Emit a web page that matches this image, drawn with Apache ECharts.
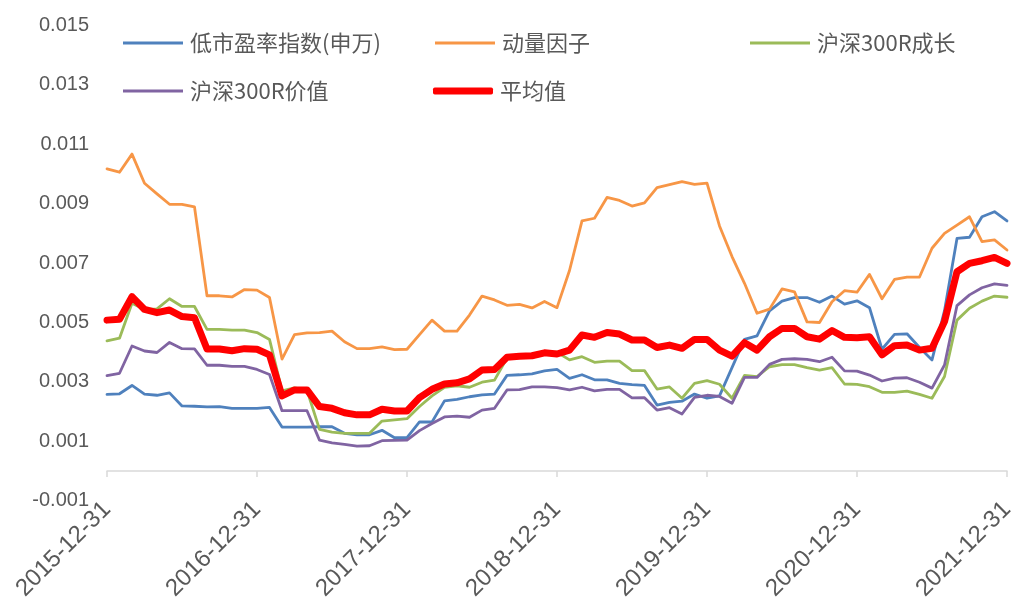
<!DOCTYPE html>
<html>
<head>
<meta charset="utf-8">
<script src="https://cdn.jsdelivr.net/npm/echarts@6/dist/echarts.min.js"></script>
<style>
html,body{margin:0;padding:0;background:#fff;}
#chart{width:1029px;height:606px;}
</style>
</head>
<body>
<div id="chart"></div>
<script>
const categories = [
"2015-12-31",
"2016-01-31","2016-02-29","2016-03-31","2016-04-30","2016-05-31","2016-06-30","2016-07-31","2016-08-31","2016-09-30","2016-10-31","2016-11-30","2016-12-31",
"2017-01-31","2017-02-28","2017-03-31","2017-04-30","2017-05-31","2017-06-30","2017-07-31","2017-08-31","2017-09-30","2017-10-31","2017-11-30","2017-12-31",
"2018-01-31","2018-02-28","2018-03-31","2018-04-30","2018-05-31","2018-06-30","2018-07-31","2018-08-31","2018-09-30","2018-10-31","2018-11-30","2018-12-31",
"2019-01-31","2019-02-28","2019-03-31","2019-04-30","2019-05-31","2019-06-30","2019-07-31","2019-08-31","2019-09-30","2019-10-31","2019-11-30","2019-12-31",
"2020-01-31","2020-02-29","2020-03-31","2020-04-30","2020-05-31","2020-06-30","2020-07-31","2020-08-31","2020-09-30","2020-10-31","2020-11-30","2020-12-31",
"2021-01-31","2021-02-28","2021-03-31","2021-04-30","2021-05-31","2021-06-30","2021-07-31","2021-08-31","2021-09-30","2021-10-31","2021-11-30","2021-12-31"
];

const seriesNames = ["低市盈率指数(申万)", "动量因子", "沪深300R成长", "沪深300R价值", "平均值"];

const lowPE = [
0.00258,0.00260,0.00288,0.00259,0.00255,0.00263,0.00219,0.00218,0.00216,0.00217,0.00211,0.00211,
0.00211,0.00214,0.00148,0.00148,0.00148,0.00149,0.00149,0.00127,0.00122,0.00122,0.00137,0.00112,
0.00112,0.00165,0.00165,0.00236,0.00241,0.00250,0.00256,0.00259,0.00322,0.00324,0.00327,0.00337,
0.00342,0.00312,0.00324,0.00307,0.00307,0.00295,0.00291,0.00288,0.00222,0.00231,0.00235,0.00259,
0.00245,0.00253,0.00348,0.00443,0.00455,0.00539,0.00572,0.00584,0.00584,0.00568,0.00589,0.00562,
0.00573,0.00550,0.00410,0.00460,0.00462,0.00416,0.00374,0.00540,0.00783,0.00787,0.00856,0.00873,0.00842
];

const momentum = [
0.01017,0.01006,0.01067,0.00969,0.00933,0.00898,0.00898,0.00889,0.00590,0.00590,0.00586,0.00611,
0.00609,0.00584,0.00377,0.00459,0.00465,0.00466,0.00471,0.00435,0.00412,0.00412,0.00418,0.00409,
0.00410,0.00459,0.00508,0.00471,0.00471,0.00525,0.00589,0.00576,0.00558,0.00561,0.00549,0.00571,
0.00550,0.00675,0.00842,0.00851,0.00921,0.00911,0.00892,0.00903,0.00954,0.00964,0.00974,0.00965,
0.00969,0.00825,0.00722,0.00632,0.00531,0.00545,0.00613,0.00603,0.00502,0.00500,0.00570,0.00607,
0.00602,0.00662,0.00580,0.00645,0.00653,0.00653,0.00750,0.00800,0.00828,0.00856,0.00772,0.00778,0.00744
];

const hs300Growth = [
0.00438,0.00447,0.00565,0.00544,0.00546,0.00580,0.00554,0.00554,0.00477,0.00477,0.00474,0.00474,
0.00466,0.00443,0.00270,0.00280,0.00272,0.00140,0.00131,0.00127,0.00127,0.00127,0.00168,0.00172,
0.00176,0.00217,0.00253,0.00282,0.00287,0.00282,0.00299,0.00306,0.00380,0.00385,0.00392,0.00400,
0.00400,0.00374,0.00385,0.00366,0.00370,0.00370,0.00338,0.00338,0.00276,0.00283,0.00245,0.00295,
0.00304,0.00292,0.00245,0.00322,0.00318,0.00351,0.00358,0.00358,0.00348,0.00340,0.00348,0.00293,
0.00292,0.00284,0.00265,0.00265,0.00269,0.00258,0.00245,0.00318,0.00508,0.00548,0.00572,0.00589,0.00585
];

const hs300Value = [
0.00321,0.00329,0.00421,0.00404,0.00399,0.00433,0.00412,0.00411,0.00356,0.00356,0.00352,0.00352,
0.00342,0.00325,0.00203,0.00203,0.00203,0.00104,0.00095,0.00090,0.00084,0.00085,0.00102,0.00103,
0.00104,0.00136,0.00160,0.00182,0.00185,0.00181,0.00205,0.00211,0.00273,0.00274,0.00283,0.00283,
0.00281,0.00273,0.00282,0.00270,0.00275,0.00275,0.00246,0.00247,0.00205,0.00213,0.00192,0.00248,
0.00255,0.00251,0.00228,0.00315,0.00315,0.00359,0.00376,0.00378,0.00376,0.00368,0.00383,0.00337,
0.00336,0.00323,0.00303,0.00313,0.00314,0.00299,0.00279,0.00357,0.00557,0.00593,0.00617,0.00630,0.00625
];

const average = [
0.00508,0.00511,0.00587,0.00544,0.00533,0.00542,0.00520,0.00516,0.00411,0.00411,0.00405,0.00412,
0.00410,0.00391,0.00253,0.00273,0.00273,0.00217,0.00211,0.00196,0.00189,0.00189,0.00208,0.00202,
0.00202,0.00247,0.00275,0.00293,0.00297,0.00310,0.00340,0.00342,0.00383,0.00386,0.00388,0.00398,
0.00394,0.00407,0.00458,0.00450,0.00466,0.00461,0.00441,0.00441,0.00416,0.00424,0.00413,0.00443,
0.00443,0.00407,0.00387,0.00432,0.00407,0.00452,0.00480,0.00480,0.00452,0.00444,0.00473,0.00450,
0.00449,0.00452,0.00391,0.00422,0.00424,0.00407,0.00413,0.00503,0.00671,0.00699,0.00708,0.00719,0.00699
];

const yTicks = { min: -0.001, max: 0.015, step: 0.002 };

const colors = ["#4F81BD", "#F79646", "#9BBB59", "#8064A2", "#FF0000"];
const seriesData = [lowPE, momentum, hs300Growth, hs300Value, average];

const textColor = "#595959";
const legendFont = "'Noto Sans CJK SC', 'Liberation Sans', sans-serif";

function mkLegend(idx, left, top) {
  const isAvg = idx === 4;
  return {
    data: [seriesNames[idx]],
    left: left, top: top,
    padding: 0,
    icon: isAvg ? 'roundRect' : 'rect',
    itemWidth: 60,
    itemHeight: isAvg ? 7 : 3,
    itemGap: 0,
    selectedMode: false,
    textStyle: { color: textColor, fontSize: 22, fontFamily: legendFont, padding: [0,0,0,2] }
  };
}

const chart = echarts.init(document.getElementById('chart'), null, { renderer: 'canvas' });
chart.setOption({
  animation: false,
  backgroundColor: '#fff',
  grid: { left: 107, right: 22, top: 25.5, bottom: 105.3, containLabel: false, outerBoundsMode: 'none' },
  legend: [
    mkLegend(0, 123, 32),
    mkLegend(1, 435, 32),
    mkLegend(2, 750, 32),
    mkLegend(3, 123, 80),
    mkLegend(4, 433, 80)
  ],
  xAxis: {
    type: 'category',
    data: categories,
    boundaryGap: false,
    axisLine: { onZero: true, lineStyle: { color: '#D9D9D9', width: 1.5 } },
    axisTick: { show: true, interval: 11, length: 6, lineStyle: { color: '#D9D9D9', width: 1.5 } },
    axisLabel: {
      interval: 11, rotate: 45, margin: 5,
      color: textColor, fontSize: 24,
      fontFamily: "'Liberation Sans', Arial, sans-serif"
    },
    splitLine: { show: false }
  },
  yAxis: {
    type: 'value',
    min: yTicks.min, max: yTicks.max, interval: yTicks.step,
    axisLine: { show: false },
    axisTick: { show: false },
    splitLine: { show: false },
    axisLabel: {
      margin: 18, color: textColor, fontSize: 20,
      fontFamily: "'Liberation Sans', Arial, sans-serif",
      formatter: v => v.toFixed(3)
    }
  },
  series: seriesNames.map((name, i) => ({
    name: name,
    type: 'line',
    data: seriesData[i],
    symbol: 'none',
    smooth: false,
    color: colors[i],
    lineStyle: { color: colors[i], width: i === 4 ? 7 : 2.8, cap: 'round', join: 'round' },
    itemStyle: { color: colors[i] },
    z: i === 4 ? 5 : 2
  }))
});
</script>
</body>
</html>
